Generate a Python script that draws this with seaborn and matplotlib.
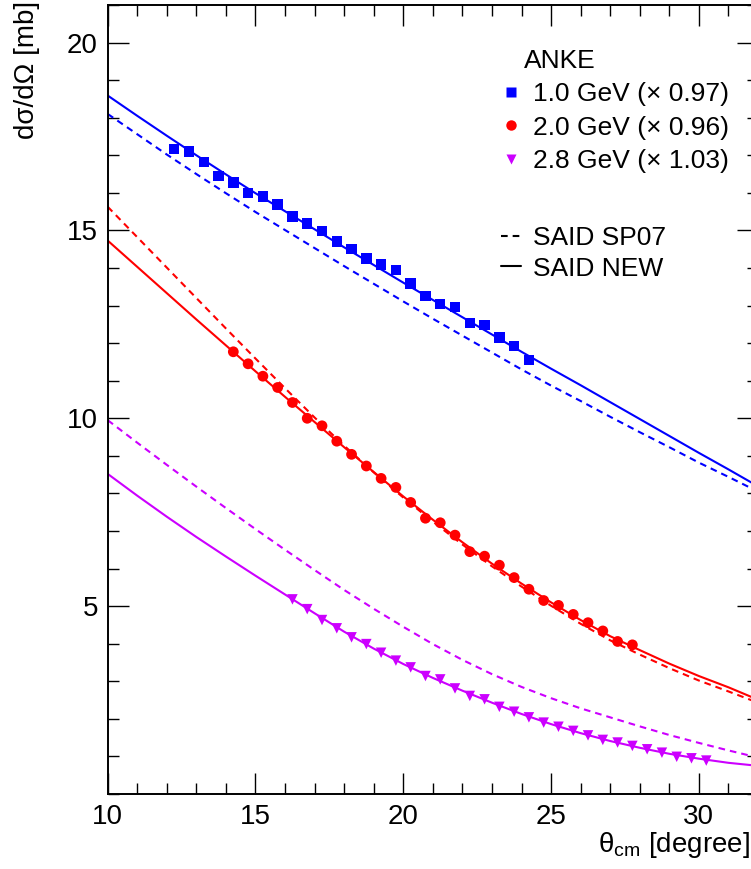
import pandas as pd
import matplotlib
matplotlib.use("Agg")
import matplotlib.pyplot as plt
from matplotlib.ticker import FixedLocator, MultipleLocator
from matplotlib.lines import Line2D
import seaborn as sns

# ANKE data points (theta_cm in degree, dsigma/dOmega in mb)
theta_10 = [12.25, 12.75, 13.25, 13.75, 14.25, 14.75, 15.25, 15.75, 16.25, 16.75,
            17.25, 17.75, 18.25, 18.75, 19.25, 19.75, 20.25, 20.75, 21.25, 21.75,
            22.25, 22.75, 23.25, 23.75, 24.25]
xs_10 = [17.17, 17.10, 16.82, 16.45, 16.27, 15.99, 15.90, 15.69, 15.37, 15.19,
         14.99, 14.70, 14.51, 14.25, 14.09, 13.95, 13.59, 13.26, 13.04, 12.96,
         12.54, 12.48, 12.15, 11.93, 11.55]

theta_20 = [14.25, 14.75, 15.25, 15.75, 16.25, 16.75, 17.25, 17.75, 18.25, 18.75,
            19.25, 19.75, 20.25, 20.75, 21.25, 21.75, 22.25, 22.75, 23.25, 23.75,
            24.25, 24.75, 25.25, 25.75, 26.25, 26.75, 27.25, 27.75]
xs_20 = [11.77, 11.45, 11.12, 10.82, 10.42, 10.00, 9.80, 9.39, 9.04, 8.73,
         8.40, 8.16, 7.76, 7.34, 7.22, 6.89, 6.45, 6.33, 6.09, 5.76,
         5.45, 5.15, 5.02, 4.78, 4.56, 4.34, 4.06, 3.97]

theta_28 = [16.25, 16.75, 17.25, 17.75, 18.25, 18.75, 19.25, 19.75, 20.25, 20.75,
            21.25, 21.75, 22.25, 22.75, 23.25, 23.75, 24.25, 24.75, 25.25, 25.75,
            26.25, 26.75, 27.25, 27.75, 28.25, 28.75, 29.25, 29.75, 30.25]
xs_28 = [5.18, 4.92, 4.63, 4.41, 4.17, 3.99, 3.76, 3.55, 3.37, 3.14,
         3.05, 2.81, 2.61, 2.52, 2.32, 2.19, 2.04, 1.90, 1.79, 1.68,
         1.56, 1.44, 1.37, 1.28, 1.19, 1.10, 0.99, 0.95, 0.89]

# SAID predictions
theta_said = [10, 11, 12, 13, 14, 15, 16, 17, 18, 19, 20, 21,
              22, 23, 24, 25, 26, 27, 28, 29, 30, 31, 32]
new_10 = [18.59, 18.05, 17.52, 17.00, 16.49, 15.99, 15.51, 15.03, 14.55, 14.08, 13.61, 13.15,
          12.69, 12.23, 11.77, 11.32, 10.88, 10.43, 9.98, 9.53, 9.08, 8.64, 8.19]
sp07_10 = [18.10, 17.56, 17.02, 16.50, 15.99, 15.49, 15.01, 14.53, 14.05, 13.58, 13.11, 12.65,
           12.20, 11.75, 11.30, 10.87, 10.46, 10.04, 9.63, 9.23, 8.82, 8.44, 8.05]
new_20 = [14.73, 14.03, 13.33, 12.63, 11.94, 11.25, 10.57, 9.90, 9.23, 8.57, 7.92, 7.30,
          6.70, 6.13, 5.60, 5.10, 4.63, 4.20, 3.83, 3.47, 3.14, 2.84, 2.51]
sp07_20 = [15.63, 14.82, 14.01, 13.20, 12.39, 11.59, 10.80, 10.02, 9.27, 8.56, 7.89, 7.25,
           6.64, 6.06, 5.52, 5.01, 4.53, 4.09, 3.71, 3.35, 3.02, 2.73, 2.43]
new_28 = [8.52, 7.94, 7.38, 6.84, 6.32, 5.81, 5.31, 4.81, 4.32, 3.87, 3.46, 3.09,
          2.75, 2.43, 2.13, 1.86, 1.62, 1.41, 1.23, 1.07, 0.94, 0.83, 0.75]
sp07_28 = [9.95, 9.35, 8.76, 8.18, 7.61, 7.05, 6.50, 5.96, 5.43, 4.93, 4.45, 3.99,
           3.57, 3.19, 2.85, 2.55, 2.28, 2.04, 1.80, 1.57, 1.36, 1.16, 0.97]

labels = ["1.0 GeV (\u00d7 0.97)", "2.0 GeV (\u00d7 0.96)", "2.8 GeV (\u00d7 1.03)"]

BLUE, RED, VIOLET = "#0000ff", "#ff0000", "#cc00ff"
DASH = (0, (3.2, 2.4))

sns.set_theme(style="ticks")
plt.rcParams["font.family"] = ["Liberation Sans", "DejaVu Sans"]
plt.rcParams["mathtext.fontset"] = "custom"
plt.rcParams["mathtext.rm"] = "Liberation Sans"
plt.rcParams["mathtext.it"] = "Liberation Sans:italic"
for key in ["axes.edgecolor", "xtick.color", "ytick.color", "text.color", "axes.labelcolor"]:
    plt.rcParams[key] = "black"

W, H = 751, 869
fig = plt.figure(figsize=(W / 100, H / 100), dpi=100)
ax = fig.add_axes([107.7 / W, 75 / H, 650.3 / W, 789 / H])

said = pd.DataFrame({"theta": theta_said, "new_10": new_10, "sp07_10": sp07_10,
                     "new_20": new_20, "sp07_20": sp07_20, "new_28": new_28, "sp07_28": sp07_28})

for col, color in [("10", BLUE), ("20", RED), ("28", VIOLET)]:
    sns.lineplot(data=said, x="theta", y="sp07_" + col, ax=ax, color=color, lw=1.5,
                 linestyle=DASH, estimator=None)
    sns.lineplot(data=said, x="theta", y="new_" + col, ax=ax, color=color, lw=1.5,
                 estimator=None)

sns.scatterplot(x=theta_10, y=xs_10, ax=ax, marker="s", s=57, color=BLUE, edgecolor="none",
                zorder=3, legend=False)
sns.scatterplot(x=theta_20, y=xs_20, ax=ax, marker="o", s=60, color=RED, edgecolor="none",
                zorder=3, legend=False)
sns.scatterplot(x=theta_28, y=xs_28, ax=ax, marker="v", s=57, color=VIOLET, edgecolor="none",
                zorder=3, legend=False)

ax.set_xlim(10, 32)
ax.set_ylim(0, 21)
ax.xaxis.set_major_locator(FixedLocator([10, 15, 20, 25, 30]))
ax.yaxis.set_major_locator(FixedLocator([5, 10, 15, 20]))
ax.xaxis.set_minor_locator(MultipleLocator(1))
ax.yaxis.set_minor_locator(MultipleLocator(1))
ax.tick_params(which="both", direction="in", top=True, right=True, width=1.0, labelsize=20)
ax.tick_params(which="major", length=15)
ax.tick_params(which="minor", length=8)
ax.tick_params(axis="x", pad=7)
ax.tick_params(axis="y", pad=7)
for sp in ax.spines.values():
    sp.set_linewidth(1.4)
ax.set_xlabel("")
ax.set_ylabel("")

fig.text(27 / W, 1 - 1 / H, "d\u03c3/d\u03a9 [mb]", rotation=90, ha="center", va="top", fontsize=20)
fig.text(750 / W, 1 - 845 / H, "\u03b8$_{\\mathrm{cm}}$ [degree]", ha="right", va="center", fontsize=20)
fig.text(524 / W, 1 - 61 / H, "ANKE", ha="left", va="center", fontsize=19)

marker_handles = [
    Line2D([], [], ls="none", marker="s", markersize=7.5, color=BLUE, markeredgecolor="none"),
    Line2D([], [], ls="none", marker="o", markersize=7.5, color=RED, markeredgecolor="none"),
    Line2D([], [], ls="none", marker="v", markersize=7.0, color=VIOLET, markeredgecolor="none"),
]
leg1 = ax.legend(marker_handles, labels, loc="upper left", bbox_to_anchor=(501 / W, 1 - 82 / H),
                 bbox_transform=fig.transFigure, frameon=False, fontsize=19, borderpad=0,
                 borderaxespad=0, handlelength=0.76, handletextpad=0.45, labelspacing=0.36)
ax.add_artist(leg1)

line_handles = [
    Line2D([], [], color="black", lw=1.5, linestyle=DASH),
    Line2D([], [], color="black", lw=1.5),
]
ax.legend(line_handles, ["SAID SP07", "SAID NEW"], loc="upper left",
          bbox_to_anchor=(501 / W, 1 - 226 / H), bbox_transform=fig.transFigure,
          frameon=False, fontsize=19, borderpad=0, borderaxespad=0, handlelength=0.76,
          handletextpad=0.45, labelspacing=0.25)

fig.savefig("out.png", dpi=100)
